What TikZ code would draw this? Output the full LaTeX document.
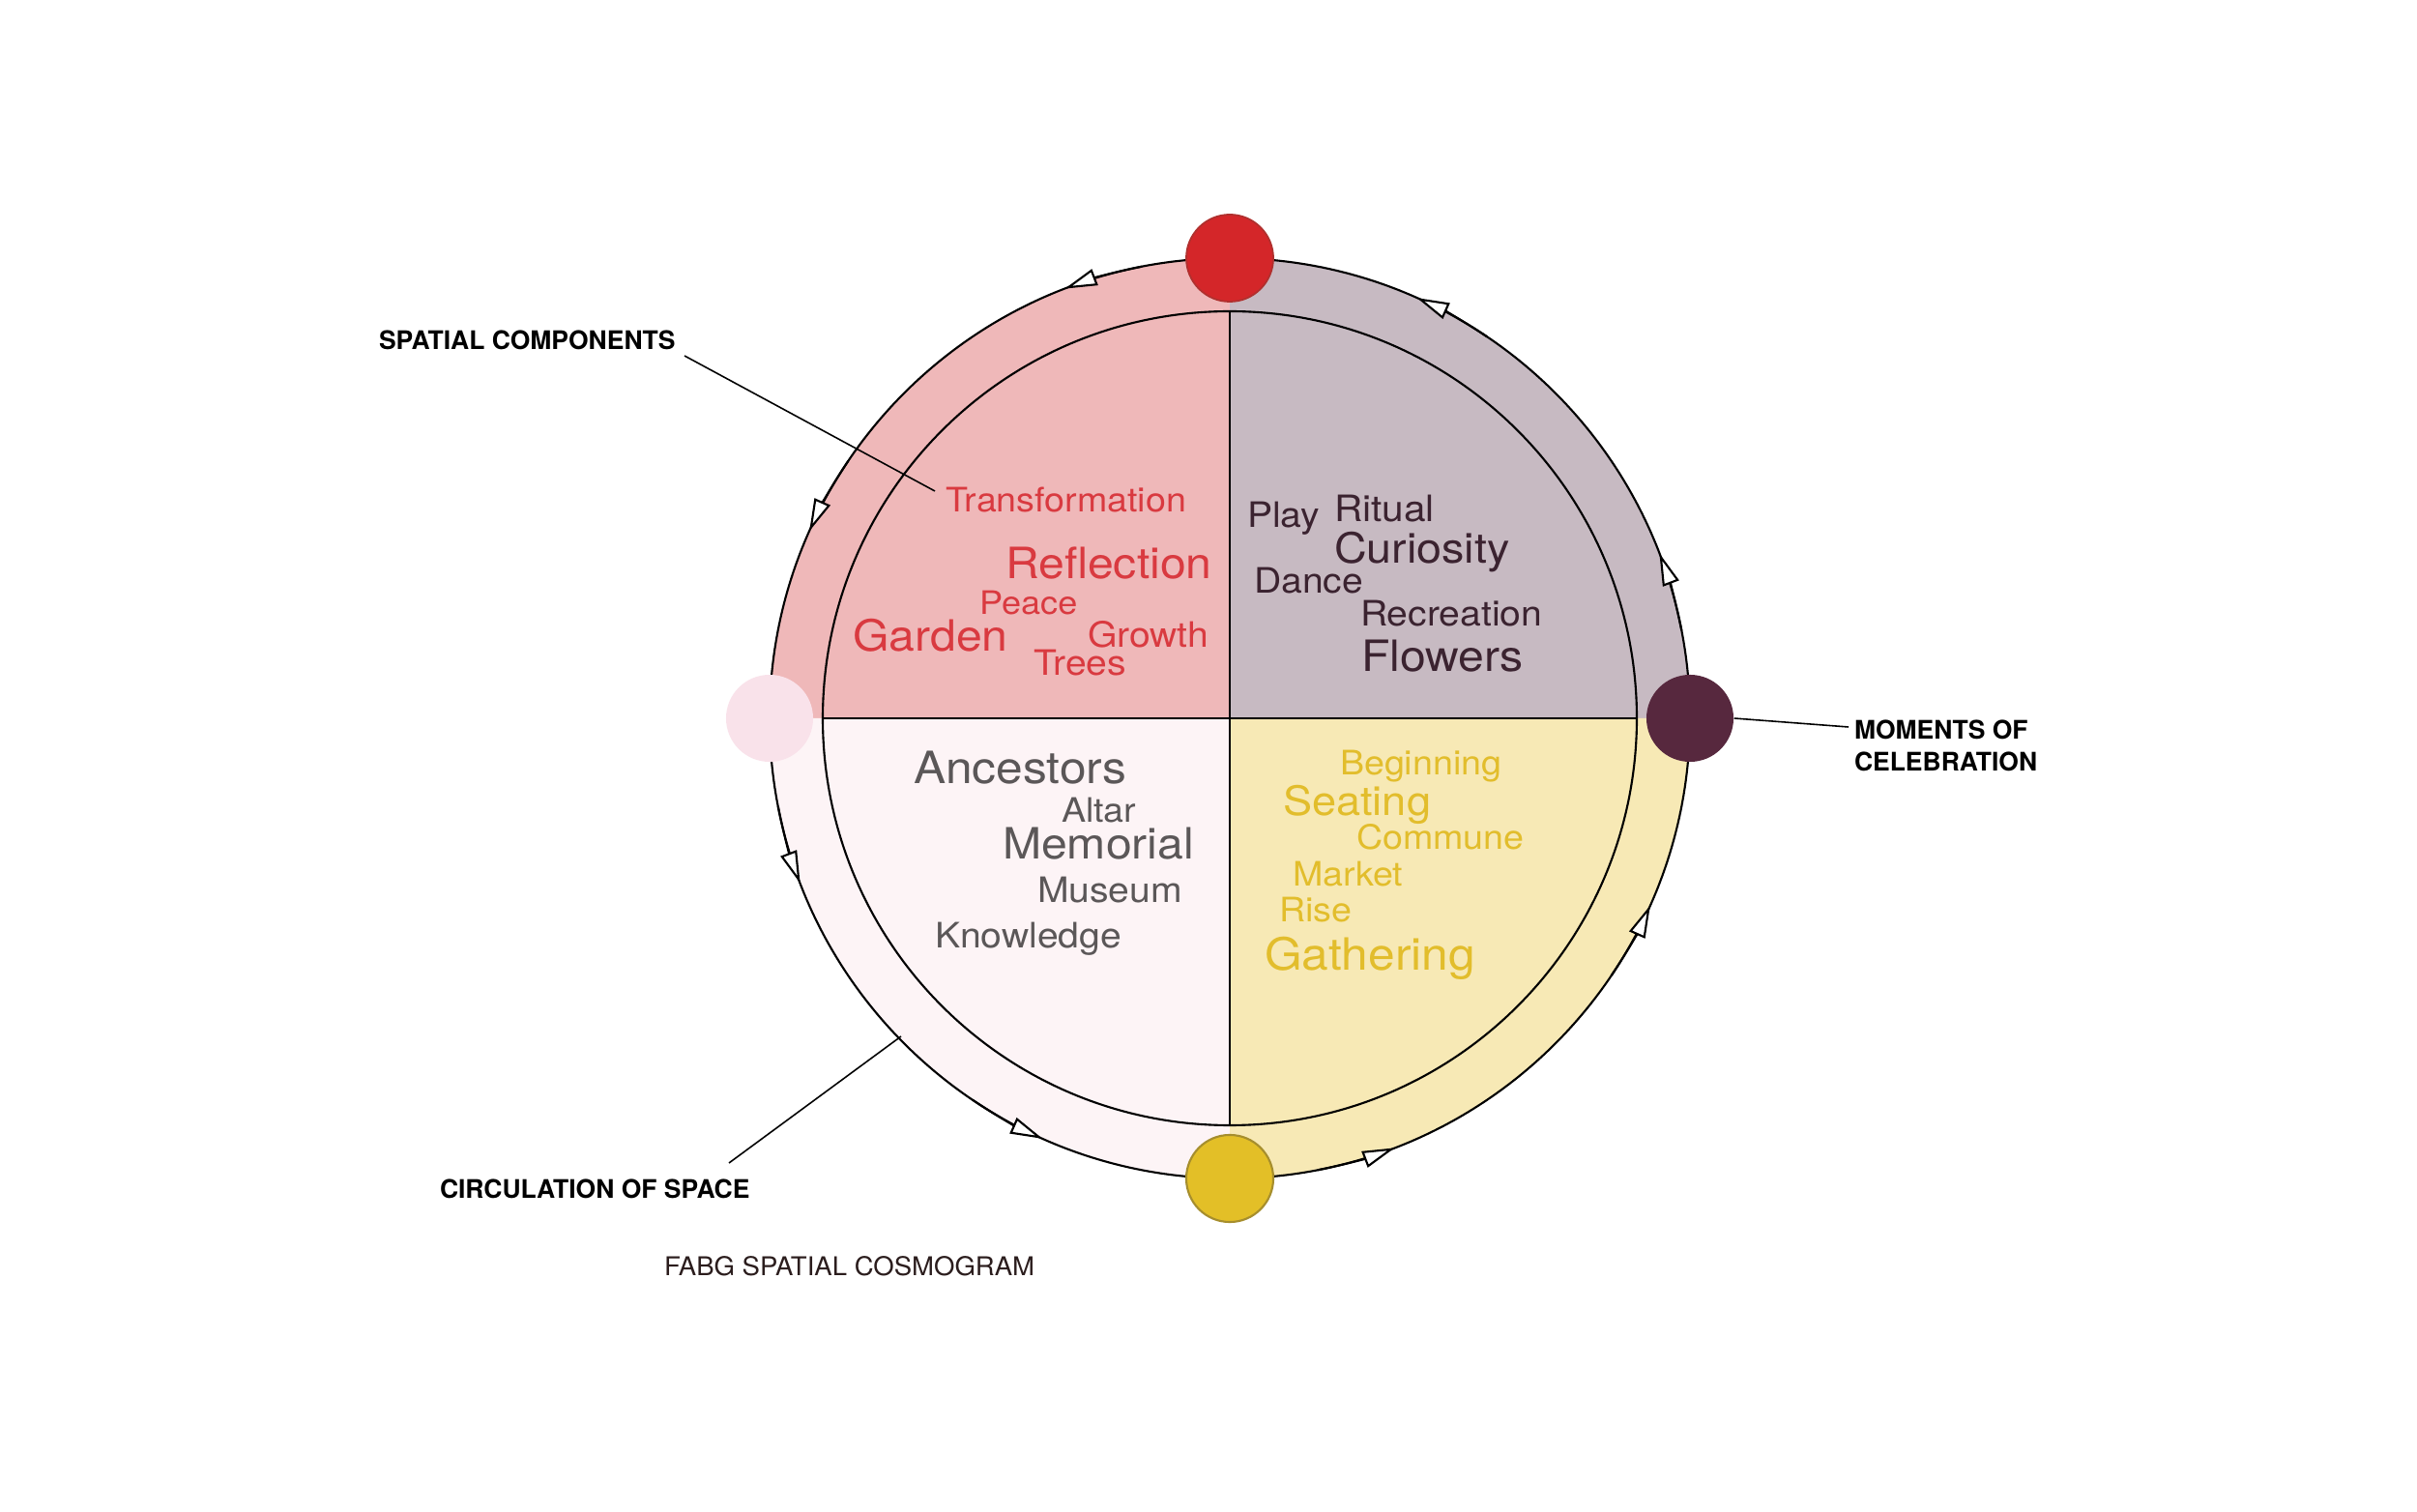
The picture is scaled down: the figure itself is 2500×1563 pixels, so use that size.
\documentclass[tikz,border=0pt]{standalone}
\usepackage{fontspec}
\setmainfont{TeX Gyre Heros}
\newfontfamily\cloudfont[FakeStretch=1.08]{TeX Gyre Heros}
\newfontfamily\titlefont[FakeStretch=1.03]{TeX Gyre Heros}
\usetikzlibrary{arrows.meta}
\definecolor{qTL}{HTML}{EFB8B9}
\definecolor{qTR}{HTML}{C7BAC2}
\definecolor{qBL}{HTML}{FDF4F6}
\definecolor{qBR}{HTML}{F7E9B5}
\definecolor{cRed}{HTML}{D93A40}
\definecolor{cMauve}{HTML}{3B2330}
\definecolor{cGray}{HTML}{5B5758}
\definecolor{cYel}{HTML}{E2BD2C}
\definecolor{cTitle}{HTML}{2B1D1D}
\definecolor{dRedF}{HTML}{D42629}
\definecolor{dRedD}{HTML}{B0302E}
\definecolor{dYelF}{HTML}{E3BF27}
\definecolor{dYelD}{HTML}{A68E2D}
\definecolor{dDark}{HTML}{57283E}
\definecolor{dPink}{HTML}{F9E2EA}
\newcommand\fs[1]{\fontsize{#1pt}{#1pt}\selectfont}
\begin{document}
\begin{tikzpicture}[x=0.01cm,y=0.01cm,
  ringline/.style={draw=black, line width=0.6pt},
  callout/.style={draw=black, line width=0.45pt},
  dot/.style={circle, inner sep=0pt, minimum size=0.9cm},
  word/.style={anchor=base west, inner sep=0pt, outer sep=0pt},
  lab/.style={anchor=base west, inner sep=0pt, outer sep=0pt, font=\bfseries\fs{7.53}},
  flow/.style={ringline, -{Triangle[length=9.5pt,width=5pt,fill=white,line width=0.6pt]}}]
\useasboundingbox (0,0) rectangle (2500,1563);
\fill[white] (0,0) rectangle (2500,1563);
\begin{scope}[shift={(1272,820)}]
  \fill[qTL] (0,0) -- (90:476) arc[start angle=90,end angle=180,radius=476] -- cycle;
  \fill[qTR] (0,0) -- (0:476) arc[start angle=0,end angle=90,radius=476] -- cycle;
  \fill[qBL] (0,0) -- (180:476) arc[start angle=180,end angle=270,radius=476] -- cycle;
  \fill[qBR] (0,0) -- (270:476) arc[start angle=270,end angle=360,radius=476] -- cycle;
  \draw[ringline] (0,0) circle[radius=421];
  \draw[ringline] (0,421) -- (0,-421);
  \draw[ringline] (-421,0) -- (421,0);
  \draw[ringline] (0,0) circle[radius=476];
  \foreach \a in {21,66,...,336}
    \draw[flow] ({\a-10}:476) arc[start angle={\a-10}, end angle=\a, radius=476];
  \node[dot, fill=dRedF, draw=dRedD, line width=0.5pt] (dred) at (90:476) {};
  \node[dot, fill=dDark] (dright) at (0:476) {};
  \node[dot, fill=dYelF, draw=dYelD, line width=0.6pt] (dyel) at (270:476) {};
  \node[dot, fill=dPink] (dpink) at (180:476) {};
\end{scope}
% top-left words
\node[word, text=cRed, font=\cloudfont\fs{9.91}] (w1) at (978,1033) {Transformation};
\node[word, text=cRed, font=\cloudfont\fs{12.68}] (w2) at (1040,964) {Reflection};
\node[word, text=cRed, font=\cloudfont\fs{9.51}] (w3) at (1013,927) {Peace};
\node[word, text=cRed, font=\cloudfont\fs{12.68}] (w4) at (882,889) {Garden};
\node[word, text=cRed, font=\cloudfont\fs{10.30}] (w5) at (1125,893) {Growth};
\node[word, text=cRed, font=\cloudfont\fs{10.30}] (w6) at (1069,864) {Trees};
% top-right words
\node[word, text=cMauve, font=\cloudfont\fs{10.30}] (w7) at (1290,1017) {Play};
\node[word, text=cMauve, font=\cloudfont\fs{10.70}] (w8) at (1380,1023) {Ritual};
\node[word, text=cMauve, font=\cloudfont\fs{12.29}] (w9) at (1380,980) {Curiosity};
\node[word, text=cMauve, font=\cloudfont\fs{10.30}] (w10) at (1297,949) {Dance};
\node[word, text=cMauve, font=\cloudfont\fs{10.30}] (w11) at (1407,915) {Recreation};
\node[word, text=cMauve, font=\cloudfont\fs{12.68}] (w12) at (1408,868) {Flowers};
% bottom-left words
\node[word, text=cGray, font=\cloudfont\fs{13.08}] (w13) at (945,752) {Ancestors};
\node[word, text=cGray, font=\cloudfont\fs{9.91}] (w14) at (1098,712) {Altar};
\node[word, text=cGray, font=\cloudfont\fs{12.68}] (w15) at (1037,674) {Memorial};
\node[word, text=cGray, font=\cloudfont\fs{10.30}] (w16) at (1073,629) {Museum};
\node[word, text=cGray, font=\cloudfont\fs{10.30}] (w17) at (967,582) {Knowledge};
% bottom-right words
\node[word, text=cYel, font=\cloudfont\fs{9.91}] (w18) at (1386,761) {Beginning};
\node[word, text=cYel, font=\cloudfont\fs{11.89}] (w19) at (1327,719) {Seating};
\node[word, text=cYel, font=\cloudfont\fs{9.91}] (w20) at (1403,684) {Commune};
\node[word, text=cYel, font=\cloudfont\fs{9.91}] (w21) at (1337,646) {Market};
\node[word, text=cYel, font=\cloudfont\fs{9.91}] (w22) at (1323,610) {Rise};
\node[word, text=cYel, font=\cloudfont\fs{13.08}] (w23) at (1308,560) {Gathering};
% labels
\node[lab] (lsp) at (392,1201) {SPATIAL COMPONENTS};
\node[lab] (lci) at (455,324) {CIRCULATION OF SPACE};
\node[word, text=cTitle, font=\titlefont\fs{7.6}] (ttl) at (687,244) {FABG SPATIAL COSMOGRAM};
\node[anchor=north west, inner sep=0pt, outer sep=0pt, align=left,
      font=\bfseries\fontsize{7.53pt}{9.39pt}\selectfont] (mom) at (1918,818) {MOMENTS OF\\CELEBRATION};
% callouts
\coordinate (sp1) at (708,1195);
\coordinate (sp2) at (967,1055);
\coordinate (ci1) at (754,360);
\coordinate (ci2) at (932,491);
\coordinate (mo2) at (1912,811);
\draw[callout] (sp1) -- (sp2);
\draw[callout] (ci1) -- (ci2);
\draw[callout] (dright.east) -- (mo2);
\end{tikzpicture}
\end{document}
